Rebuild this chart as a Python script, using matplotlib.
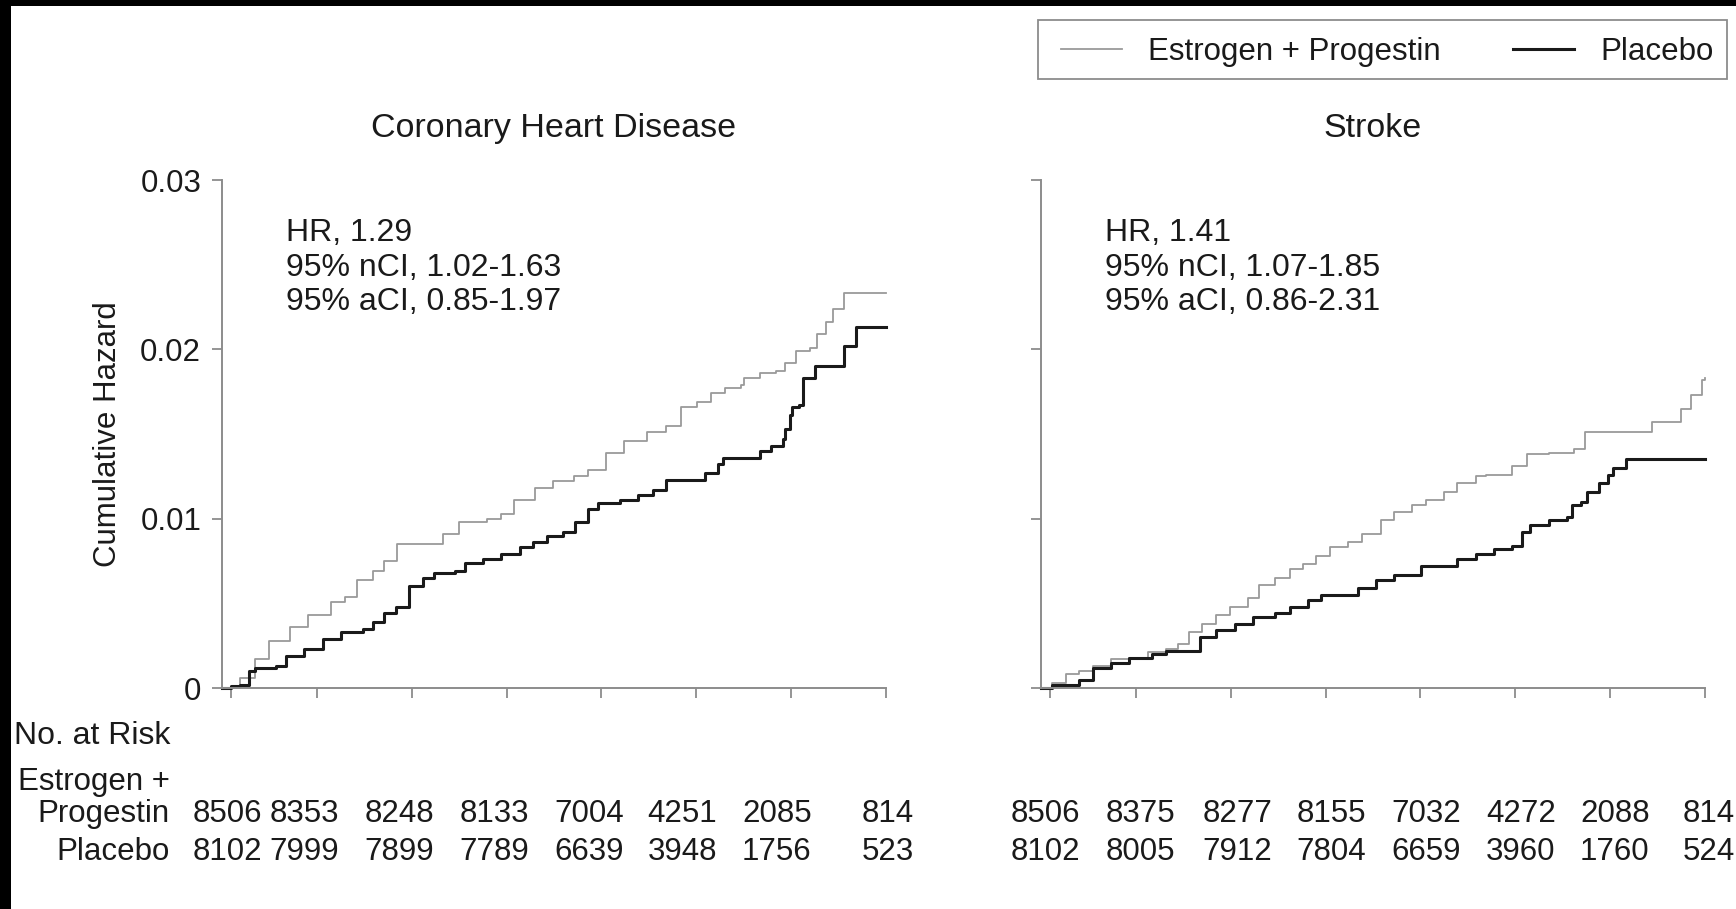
import matplotlib
matplotlib.use("Agg")
import matplotlib.pyplot as plt
import matplotlib.transforms as mtransforms
from matplotlib.patches import Rectangle
from matplotlib.lines import Line2D

plt.rcParams['font.family'] = ['Liberation Sans', 'DejaVu Sans']

# cumulative hazard curves (years, hazard)
chd_ep_t = [0, 0.19, 0.35, 0.50, 0.72, 0.91, 1.15, 1.30, 1.42, 1.59, 1.71, 1.85, 2.12, 2.33,
            2.50, 2.79, 2.94, 3.08, 3.30, 3.49, 3.71, 3.86, 4.05, 4.24, 4.48, 4.68, 4.84,
            5.01, 5.16, 5.30, 5.47, 5.50, 5.67, 5.84, 5.93, 6.05, 6.20, 6.27, 6.37, 6.44,
            6.56, 7.0]
chd_ep_h = [0, 0.0006, 0.0017, 0.0028, 0.0036, 0.0043, 0.0051, 0.0054, 0.0064, 0.0069,
            0.0075, 0.0085, 0.0085, 0.0091, 0.0098, 0.0100, 0.0103, 0.0111, 0.0118, 0.0122,
            0.0125, 0.0129, 0.0139, 0.0146, 0.0151, 0.0155, 0.0166, 0.0169, 0.0174, 0.0177,
            0.0179, 0.0183, 0.0186, 0.0187, 0.0192, 0.0199, 0.0201, 0.0209, 0.0216, 0.0224,
            0.0233, 0.0233]

chd_pl_t = [0, 0.09, 0.19, 0.28, 0.35, 0.57, 0.67, 0.86, 1.06, 1.25, 1.49, 1.59, 1.71, 1.83,
            1.97, 2.12, 2.24, 2.46, 2.56, 2.75, 2.94, 3.14, 3.28, 3.43, 3.60, 3.72, 3.86,
            3.96, 4.20, 4.39, 4.54, 4.68, 5.09, 5.23, 5.28, 5.67, 5.79, 5.91, 5.94, 5.99,
            6.01, 6.08, 6.13, 6.25, 6.56, 6.68, 7.0]
chd_pl_h = [0, 0.0001, 0.0002, 0.0010, 0.0012, 0.0013, 0.0019, 0.0023, 0.0029, 0.0033,
            0.0035, 0.0039, 0.0044, 0.0048, 0.0060, 0.0065, 0.0068, 0.0069, 0.0074, 0.0076,
            0.0079, 0.0083, 0.0086, 0.0090, 0.0092, 0.0098, 0.0106, 0.0109, 0.0111, 0.0114,
            0.0117, 0.0123, 0.0127, 0.0132, 0.0136, 0.0140, 0.0143, 0.0147, 0.0153, 0.0161,
            0.0166, 0.0167, 0.0183, 0.0190, 0.0202, 0.0213, 0.0213]

stroke_ep_t = [0, 0.12, 0.26, 0.40, 0.55, 0.74, 0.93, 1.13, 1.32, 1.44, 1.56, 1.70, 1.85,
               1.99, 2.18, 2.30, 2.47, 2.62, 2.76, 2.90, 3.05, 3.24, 3.38, 3.58, 3.72, 3.91,
               4.06, 4.25, 4.39, 4.59, 4.69, 4.97, 5.12, 5.36, 5.62, 5.74, 6.44, 6.75, 6.85,
               6.97, 7.0]
stroke_ep_h = [0, 0.0003, 0.0008, 0.0010, 0.0013, 0.0017, 0.0018, 0.0021, 0.0023, 0.0026,
               0.0033, 0.0038, 0.0043, 0.0048, 0.0053, 0.0061, 0.0065, 0.0070, 0.0073, 0.0078,
               0.0083, 0.0086, 0.0091, 0.0099, 0.0104, 0.0108, 0.0111, 0.0116, 0.0121, 0.0125,
               0.0126, 0.0131, 0.0138, 0.0139, 0.0141, 0.0151, 0.0157, 0.0165, 0.0173, 0.0182,
               0.0183]

stroke_pl_t = [0, 0.12, 0.40, 0.55, 0.74, 0.93, 1.17, 1.32, 1.68, 1.85, 2.04, 2.23, 2.47,
               2.62, 2.81, 2.95, 3.34, 3.53, 3.72, 4.01, 4.39, 4.59, 4.78, 4.97, 5.07, 5.16,
               5.36, 5.55, 5.60, 5.69, 5.76, 5.88, 5.98, 6.03, 6.17, 7.0]
stroke_pl_h = [0, 0.0002, 0.0005, 0.0012, 0.0015, 0.0018, 0.0020, 0.0022, 0.0030, 0.0034,
               0.0038, 0.0042, 0.0044, 0.0048, 0.0052, 0.0055, 0.0059, 0.0064, 0.0067, 0.0072,
               0.0076, 0.0079, 0.0082, 0.0084, 0.0092, 0.0096, 0.0099, 0.0101, 0.0108, 0.0110,
               0.0116, 0.0121, 0.0126, 0.0130, 0.0135, 0.0135]

# numbers at risk
chd_risk_ep = [8506, 8353, 8248, 8133, 7004, 4251, 2085, 814]
chd_risk_pl = [8102, 7999, 7899, 7789, 6639, 3948, 1756, 523]
stroke_risk_ep = [8506, 8375, 8277, 8155, 7032, 4272, 2088, 814]
stroke_risk_pl = [8102, 8005, 7912, 7804, 6659, 3960, 1760, 524]

year_ticks = [0.1, 1, 2, 3, 4, 5, 6, 7]
y_ticks = [0, 0.01, 0.02, 0.03]
y_ticklabels = ['0', '0.01', '0.02', '0.03']

chd_stats = ['HR, 1.29', '95% nCI, 1.02-1.63', '95% aCI, 0.85-1.97']
stroke_stats = ['HR, 1.41', '95% nCI, 1.07-1.85', '95% aCI, 0.86-2.31']

# where the risk-table columns sit (in years along each x axis)
chd_cols = [0.06, 0.87, 1.87, 2.87, 3.87, 4.85, 5.85, 7.02]
stroke_cols = [0.05, 1.05, 2.07, 3.06, 4.06, 5.06, 6.05, 7.04]

GRAY = '#9a9a9a'
DARK = '#1a1a1a'
AX = '#8c8c8c'
TXT = '#1a1a1a'
FS = 22.5

W, H = 1736, 909
fig = plt.figure(figsize=(W / 100, H / 100), dpi=100, facecolor='black')
fig.patches.append(Rectangle((11 / W, 0), 1, 1 - 6 / H, transform=fig.transFigure,
                             facecolor='white', edgecolor='none', zorder=-10))


def px(x, y):
    return x / W, 1 - y / H


def make_panel(left_px, title, ep_t, ep_h, pl_t, pl_h, stats, risk_ep, risk_pl, show_y, cols):
    ax = fig.add_axes([left_px / W, 1 - 688 / H, 664 / W, 508 / H])
    ax.set_facecolor('none')
    ax.plot(ep_t, ep_h, drawstyle='steps-post', color=GRAY, lw=1.3, clip_on=False)
    ax.plot(pl_t, pl_h, drawstyle='steps-post', color=DARK, lw=2.2, clip_on=False)
    ax.set_xlim(0, 7)
    ax.set_ylim(0, 0.03)
    for s in ['top', 'right']:
        ax.spines[s].set_visible(False)
    for s in ['left', 'bottom']:
        ax.spines[s].set_color(AX)
        ax.spines[s].set_linewidth(1.4)
    ax.set_xticks(year_ticks)
    ax.set_xticklabels([])
    ax.set_yticks(y_ticks)
    if show_y:
        ax.set_yticklabels(y_ticklabels)
    else:
        ax.set_yticklabels([])
    ax.tick_params(direction='out', length=7, width=1.3, color=AX, labelsize=FS,
                   labelcolor=TXT, pad=8)
    ax.text(0.5, 1 + 52 / 508, title, transform=ax.transAxes, ha='center', va='center',
            fontsize=FS + 2, color=TXT)
    for i, line in enumerate(stats):
        ax.text(0.0964, (688 - 233 - 34.5 * i) / 508, line, transform=ax.transAxes,
                ha='left', va='center', fontsize=FS + 0.5, color=TXT)
    tr = mtransforms.blended_transform_factory(ax.transData, fig.transFigure)
    for xv, a, b in zip(cols, risk_ep, risk_pl):
        ax.text(xv, 1 - 814 / H, str(a), transform=tr, ha='center', va='center',
                fontsize=FS, color=TXT, clip_on=False)
        ax.text(xv, 1 - 852 / H, str(b), transform=tr, ha='center', va='center',
                fontsize=FS, color=TXT, clip_on=False)
    return ax


make_panel(222, 'Coronary Heart Disease', chd_ep_t, chd_ep_h, chd_pl_t, chd_pl_h,
           chd_stats, chd_risk_ep, chd_risk_pl, True, chd_cols)
make_panel(1041, 'Stroke', stroke_ep_t, stroke_ep_h, stroke_pl_t, stroke_pl_h,
           stroke_stats, stroke_risk_ep, stroke_risk_pl, False, stroke_cols)

fig.text(*px(108, 434), 'Cumulative Hazard', rotation=90, ha='center', va='center',
         fontsize=FS, color=TXT)

# row labels of the risk table
for y, lab, fs in [(736, 'No. at Risk', FS + 0.5), (782, 'Estrogen +', FS),
                   (814, 'Progestin', FS), (852, 'Placebo', FS)]:
    fig.text(*px(170, y), lab, ha='right', va='center', fontsize=fs, color=TXT)

# legend: box drawn separately so its size matches the original
fig.patches.append(Rectangle(px(1038, 79), 689 / W, 59 / H, transform=fig.transFigure,
                             facecolor='white', edgecolor=AX, linewidth=1.3, zorder=1))
handles = [Line2D([], [], color=GRAY, lw=1.3), Line2D([], [], color=DARK, lw=2.2)]
leg = fig.legend(handles, ['Estrogen + Progestin', 'Placebo'], ncol=2,
                 loc='upper right', bbox_to_anchor=px(1727, 24), borderaxespad=0,
                 fontsize=FS, frameon=False, handlelength=1.95,
                 handletextpad=0.85, columnspacing=2.3, borderpad=0.42)
leg.set_zorder(2)
for t in leg.get_texts():
    t.set_color(TXT)

fig.savefig('out.png', dpi=100)
